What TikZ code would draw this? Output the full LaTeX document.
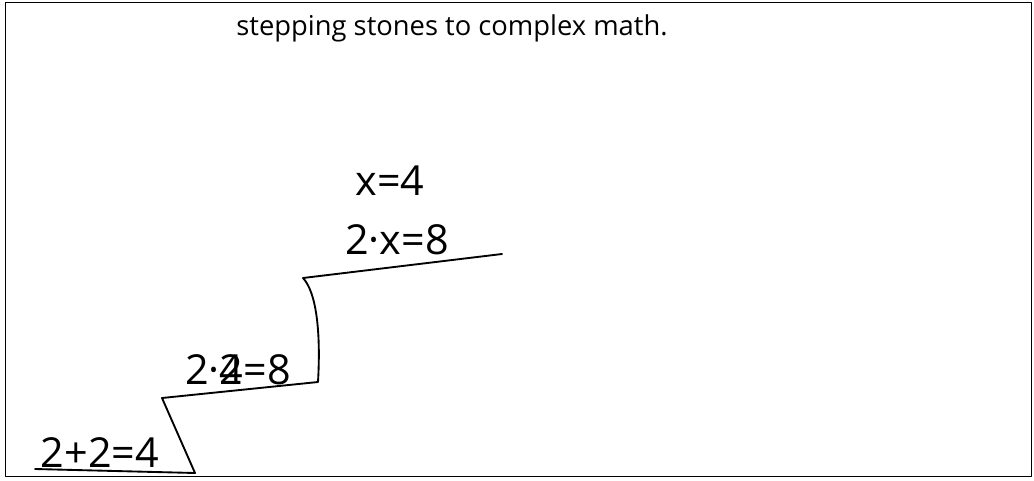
\documentclass[tikz,border=0pt]{standalone}
\usepackage{fontspec}
\setmainfont{Open Sans}
\tikzset{eqn/.style={inner sep=0pt, font=\fontsize{31}{34}\selectfont}}
\begin{document}
\begin{tikzpicture}[x=0.75pt, y=-0.75pt, line cap=round, line join=round]
\useasboundingbox (0,0) rectangle (1034,481);
\draw[line width=0.6pt](5,2) rectangle (1031,476);
\node[inner sep=0pt] (title) at (452,28) {\fontsize{20.5}{24}\selectfont stepping stones to complex math.};
% the stairs
\draw[line width=1.4pt](35,469)--(195,473)--(162,398)--(318,382)
  .. controls (321,330) and (316,292) .. (303,278)--(502,254);
\node[eqn] (sum) at (100,453) {2+2=4};
\node[eqn] (prod) at (238,370) {2·\makebox[0pt][l]{2}4=8};
\node[eqn] (var) at (397,240) {2·x=8};
\node[eqn] (sol) at (390,181) {x=4};
\end{tikzpicture}
\end{document}
